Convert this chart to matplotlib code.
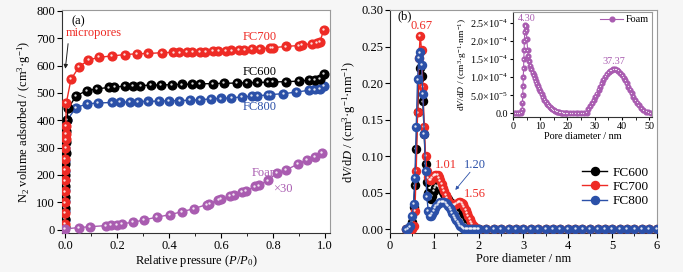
import matplotlib
matplotlib.use("Agg")
import matplotlib.pyplot as plt
from matplotlib.transforms import offset_copy
from matplotlib.ticker import MultipleLocator, FixedLocator, FixedFormatter, FormatStrFormatter

plt.rcParams['font.family'] = ['Liberation Serif', 'DejaVu Serif']
plt.rcParams['mathtext.fontset'] = 'custom'
plt.rcParams['mathtext.rm'] = 'Liberation Serif'
plt.rcParams['mathtext.it'] = 'Liberation Serif:italic'
plt.rcParams['mathtext.bf'] = 'Liberation Serif:bold'

# ---------------- data: N2 isotherms (panel a) ----------------
fc700_p = [0.0002, 0.0003, 0.0004, 0.0005, 0.0007, 0.0009, 0.0012, 0.0015, 0.002, 0.0025, 0.003, 0.005,
           0.023, 0.055, 0.09, 0.13, 0.18, 0.23, 0.276, 0.32, 0.374, 0.417, 0.44, 0.47, 0.49, 0.52, 0.54,
           0.57, 0.59, 0.62, 0.64, 0.67, 0.69, 0.72, 0.75, 0.79, 0.80, 0.85, 0.90, 0.91, 0.95, 0.97, 0.98, 0.995]
fc700_v = [20, 60, 100, 140, 180, 220, 260, 300, 330, 350, 378, 463,
           550, 596, 620, 630, 635, 640, 643, 644, 647, 648, 648, 649, 649, 651, 651,
           652, 653, 654, 655, 656, 658, 660, 662, 664, 665, 670, 673, 675, 680, 684, 687, 730]

fc600_p = [0.0002, 0.0003, 0.0005, 0.0007, 0.001, 0.0013, 0.0017, 0.0022, 0.003, 0.004, 0.006, 0.013,
           0.042, 0.083, 0.124, 0.17, 0.19, 0.23, 0.26, 0.29, 0.33, 0.37, 0.41, 0.45, 0.49, 0.52, 0.57,
           0.61, 0.66, 0.70, 0.74, 0.78, 0.80, 0.85, 0.90, 0.94, 0.96, 0.98, 0.995]
fc600_v = [10, 40, 80, 120, 160, 200, 240, 280, 320, 360, 400, 444,
           489, 508, 515, 520, 522, 524, 526, 527, 528, 529, 530, 531, 532, 533, 534,
           535, 536, 537, 538, 539, 540, 541, 543, 546, 548, 550, 570]

fc800_p = [0.0001, 0.0002, 0.0003, 0.0004, 0.0005, 0.0006, 0.0007, 0.0008, 0.0009, 0.001, 0.0012, 0.008,
           0.042, 0.086, 0.126, 0.18, 0.21, 0.25, 0.28, 0.32, 0.36, 0.40, 0.44, 0.48, 0.52, 0.56, 0.60,
           0.64, 0.68, 0.72, 0.74, 0.78, 0.79, 0.84, 0.89, 0.94, 0.96, 0.98, 0.995]
fc800_v = [35, 70, 105, 145, 180, 215, 250, 285, 300, 318, 330, 400,
           446, 460, 463, 465, 466, 467, 468, 469, 470, 471, 472, 473, 475, 478, 480,
           482, 485, 488, 490, 492, 494, 497, 503, 510, 513, 516, 527]

foam_p = [0.001, 0.054, 0.096, 0.158, 0.175, 0.20, 0.22, 0.26, 0.305, 0.353, 0.404, 0.45, 0.496, 0.545,
          0.555, 0.59, 0.60, 0.635, 0.65, 0.68, 0.695, 0.73, 0.745, 0.78, 0.814, 0.85, 0.897, 0.93, 0.96, 0.987]
foam_v = [3, 8, 11, 15, 17, 18, 22, 27, 36, 46, 55, 66, 77, 92,
          95, 109, 112, 122, 126, 137, 141, 158, 162, 180, 207, 218, 241, 255, 267, 280]

# ---------------- data: pore size distribution (panel b) ----------------
psd_d = [0.35, 0.40, 0.45, 0.50, 0.53, 0.56, 0.59, 0.62, 0.65, 0.68, 0.71, 0.74, 0.77, 0.80, 0.83, 0.86,
         0.89, 0.92, 0.95, 0.98, 1.01, 1.04, 1.07, 1.10, 1.13, 1.16, 1.19, 1.22, 1.25, 1.28, 1.31, 1.34,
         1.37, 1.40, 1.43, 1.46, 1.49, 1.52, 1.55, 1.58, 1.61, 1.64, 1.67, 1.70, 1.73, 1.76, 1.79, 1.82,
         1.85, 1.88, 1.91, 1.94, 1.97, 2.00,
         2.17, 2.33, 2.50, 2.67, 2.83, 3.00, 3.17, 3.33, 3.50, 3.67, 3.83, 4.00, 4.17, 4.33, 4.50, 4.67,
         4.83, 5.00, 5.17, 5.33, 5.50, 5.67, 5.83, 6.00]
psd_fc700 = [0, 0, 0, 0.001, 0.005, 0.025, 0.080, 0.160, 0.235, 0.265, 0.245, 0.195, 0.140, 0.100, 0.080, 0.071,
             0.068, 0.068, 0.070, 0.073, 0.075, 0.075, 0.074, 0.071, 0.067, 0.062, 0.057, 0.052, 0.047, 0.043, 0.039, 0.036,
             0.034, 0.033, 0.033, 0.034, 0.035, 0.036, 0.037, 0.037, 0.036, 0.034, 0.031, 0.027, 0.023, 0.018, 0.014, 0.010,
             0.007, 0.004, 0.002, 0.001, 0.001, 0.001,
             0.001, 0.001, 0.001, 0.001, 0.001, 0.001, 0.001, 0.001, 0.001, 0.001, 0.001, 0.001, 0.001, 0.001, 0.001, 0.001,
             0.001, 0.001, 0.001, 0.001, 0.001, 0.001, 0.001, 0.001]
psd_fc600 = [0, 0, 0.001, 0.010, 0.030, 0.060, 0.110, 0.160, 0.205, 0.220, 0.210, 0.175, 0.130, 0.090, 0.065, 0.050,
             0.043, 0.042, 0.046, 0.052, 0.057, 0.059, 0.059, 0.058, 0.056, 0.054, 0.051, 0.048, 0.046, 0.043, 0.041, 0.038,
             0.036, 0.033, 0.031, 0.028, 0.025, 0.022, 0.019, 0.016, 0.013, 0.010, 0.008, 0.006, 0.004, 0.003, 0.002, 0.001,
             0.001, 0.001, 0.001, 0.001, 0.001, 0.001,
             0.001, 0.001, 0.001, 0.001, 0.001, 0.001, 0.001, 0.001, 0.001, 0.001, 0.001, 0.001, 0.001, 0.001, 0.001, 0.001,
             0.001, 0.001, 0.001, 0.001, 0.001, 0.001, 0.001, 0.001]
psd_fc800 = [0, 0.001, 0.004, 0.018, 0.035, 0.070, 0.140, 0.205, 0.235, 0.242, 0.225, 0.185, 0.130, 0.080, 0.045, 0.025,
             0.018, 0.018, 0.021, 0.025, 0.029, 0.032, 0.034, 0.036, 0.037, 0.038, 0.038, 0.037, 0.036, 0.034, 0.032, 0.029,
             0.026, 0.023, 0.019, 0.016, 0.013, 0.010, 0.007, 0.005, 0.003, 0.002, 0.001, 0.001, 0.001, 0.001, 0.001, 0.001,
             0.001, 0.001, 0.001, 0.001, 0.001, 0.001,
             0.001, 0.001, 0.001, 0.001, 0.001, 0.001, 0.001, 0.001, 0.001, 0.001, 0.001, 0.001, 0.001, 0.001, 0.001, 0.001,
             0.001, 0.001, 0.001, 0.001, 0.001, 0.001, 0.001, 0.001]

# ---------------- data: foam PSD (inset) ----------------
foam_d = [0.3, 1.0, 1.7, 2.4, 3.0, 3.4, 3.5, 3.6, 3.7, 3.8, 3.9, 4.0, 4.1, 4.2, 4.3, 4.5, 4.7, 4.9, 5.1, 5.4,
          5.7, 6.0, 6.4, 6.8, 7.2, 7.6, 8.0, 8.4, 8.8, 9.2, 9.6, 10.0, 10.5, 11.0, 11.5, 12.0, 12.5, 13.0, 13.5, 14.0,
          14.5, 15.0, 15.5, 16.0, 16.5, 17.0, 17.5, 18.0, 18.5, 19.0, 19.5, 20.0, 21, 22, 23, 24, 25, 26, 27, 27.7,
          28.4, 29.0, 29.6, 30.2, 30.8, 31.4, 32.0, 32.6, 33.2, 33.8, 34.4, 35.1, 35.7, 36.3, 36.9, 37.5, 38.1, 38.7, 39.4, 40.0,
          40.6, 41.2, 41.8, 42.4, 43.0, 43.6, 44.2, 44.8, 45.5, 46.1, 47.0, 47.9, 48.8, 49.7, 50.6]
foam_psd = [0, 0, 0, 0, 0.02, 0.1, 0.3, 0.5, 0.75, 1.0, 1.25, 1.5, 1.75, 2.0, 2.25, 2.45, 2.42, 2.3, 2.05, 1.75,
            1.58, 1.45, 1.32, 1.22, 1.13, 1.05, 0.97, 0.89, 0.82, 0.75, 0.68, 0.61, 0.53, 0.45, 0.38, 0.32, 0.27, 0.22, 0.18, 0.14,
            0.11, 0.09, 0.07, 0.05, 0.04, 0.03, 0.02, 0.015, 0.01, 0.008, 0.005, 0.003, 0.002, 0.002, 0.002, 0.002, 0.002, 0.002, 0.02, 0.12,
            0.2, 0.28, 0.37, 0.46, 0.55, 0.65, 0.74, 0.83, 0.93, 1.02, 1.08, 1.14, 1.18, 1.2, 1.22, 1.22, 1.21, 1.18, 1.12, 1.06,
            0.99, 0.92, 0.83, 0.74, 0.65, 0.56, 0.46, 0.37, 0.3, 0.23, 0.15, 0.09, 0.05, 0.03, 0.01]
foam_psd_scale = 1e-4

inset_yticks = [0.0, 0.5e-4, 1.0e-4, 1.5e-4, 2.0e-4, 2.5e-4]
inset_yticklabels = ['0.0', '5.0×10$^{-5}$', '1.0×10$^{-4}$', '1.5×10$^{-4}$', '2.0×10$^{-4}$', '2.5×10$^{-4}$']

RED = '#ee2b25'
BLACK = '#000000'
BLUE = '#2b50a8'
PURPLE = '#a95cb0'

fig = plt.figure(figsize=(6.83, 2.72), dpi=100, facecolor='#f6f6f6')


def glossy(ax, x, y, color, ms, lw=1.0, hl=1.7, label=None, z=2):
    ax.plot(x, y, '-o', color=color, ms=ms, lw=lw, mec=color, mfc=color, label=label, zorder=z)
    tr = offset_copy(ax.transData, fig=fig, x=-0.6, y=0.6, units='points')
    ax.plot(x, y, 'o', ms=hl, color='white', mec='none', alpha=0.85, transform=tr, zorder=z + 0.1)


def style(ax, fs):
    for s in ['top', 'right']:
        ax.spines[s].set_color('#9a9a9a')
    for s in ['left', 'bottom']:
        ax.spines[s].set_color('#333333')
    ax.tick_params(direction='out', length=3.5, width=0.8, labelsize=fs, top=False, right=False, pad=1.5)
    ax.tick_params(which='minor', direction='out', length=2, width=0.6)


# ---------------- panel (a) ----------------
ax1 = fig.add_axes([0.0908, 0.1434, 0.3924, 0.8199])
glossy(ax1, fc800_p, fc800_v, BLUE, 6.3, z=2)
glossy(ax1, fc600_p, fc600_v, BLACK, 6.3, z=3)
glossy(ax1, fc700_p, fc700_v, RED, 6.3, z=4)
glossy(ax1, foam_p, foam_v, PURPLE, 6.3, z=5)
ax1.set_xlim(-0.0115, 1.019)
ax1.set_ylim(-12, 803)
ax1.xaxis.set_major_locator(MultipleLocator(0.2))
ax1.xaxis.set_minor_locator(MultipleLocator(0.1))
ax1.yaxis.set_major_locator(MultipleLocator(100))
ax1.xaxis.set_major_formatter(FormatStrFormatter('%.1f'))
style(ax1, 9)
ax1.set_xlabel('Relative pressure ($P$/$P_0$)', fontsize=9, labelpad=1)
ax1.set_ylabel('N$_2$ volume adsorbed / (cm$^3$·g$^{-1}$)', fontsize=9, labelpad=2)
ax1.text(0.025, 760, '(a)', fontsize=9, va='center')
ax1.text(0.004, 719, 'micropores', color=RED, fontsize=9, va='center')
ax1.annotate('', xy=(0.0, 578), xytext=(0.013, 690),
             arrowprops=dict(arrowstyle='-|>', color='#222222', lw=0.7, mutation_scale=6))
ax1.text(0.75, 704, 'FC700', color=RED, fontsize=9, ha='center', va='center')
ax1.text(0.75, 577, 'FC600', color=BLACK, fontsize=9, ha='center', va='center')
ax1.text(0.75, 449, 'FC800', color=BLUE, fontsize=9, ha='center', va='center')
ax1.text(0.773, 208, 'Foam', color=PURPLE, fontsize=9, ha='center', va='center')
ax1.text(0.836, 150, '×30', color=PURPLE, fontsize=9, ha='center', va='center')

# ---------------- panel (b) ----------------
ax2 = fig.add_axes([0.571, 0.1434, 0.3905, 0.8199])
glossy(ax2, psd_d, psd_fc600, BLACK, 5.8, label='FC600', z=2)
glossy(ax2, psd_d, psd_fc700, RED, 5.8, label='FC700', z=3)
glossy(ax2, psd_d, psd_fc800, BLUE, 5.8, label='FC800', z=4)
ax2.set_xlim(0, 6)
ax2.set_ylim(-0.005, 0.300)
ax2.xaxis.set_major_locator(MultipleLocator(1))
ax2.xaxis.set_minor_locator(MultipleLocator(0.5))
ax2.yaxis.set_major_locator(MultipleLocator(0.05))
ax2.yaxis.set_major_formatter(FormatStrFormatter('%.2f'))
style(ax2, 9)
ax2.set_xlabel('Pore diameter / nm', fontsize=9, labelpad=1)
ax2.set_ylabel('d$V$/d$D$ / (cm$^3$·g$^{-1}$·nm$^{-1}$)', fontsize=9, labelpad=2)
ax2.text(0.17, 0.291, '(b)', fontsize=9, va='center')
ax2.text(0.715, 0.278, '0.67', color=RED, fontsize=9, ha='center', va='center')
ax2.text(1.26, 0.088, '1.01', color=RED, fontsize=9, ha='center', va='center')
ax2.text(1.90, 0.088, '1.20', color=BLUE, fontsize=9, ha='center', va='center')
ax2.text(1.90, 0.049, '1.56', color=RED, fontsize=9, ha='center', va='center')
ax2.annotate('', xy=(1.43, 0.051), xytext=(1.84, 0.081),
             arrowprops=dict(arrowstyle='-|>', color=BLUE, lw=0.6, mutation_scale=5))
h, l = ax2.get_legend_handles_labels()
ax2.legend(h, l, loc='lower right', bbox_to_anchor=(1.0, 0.08), frameon=False, fontsize=9.5,
           handlelength=1.9, handletextpad=0.4, labelspacing=0.15, borderaxespad=0.2)

# ---------------- inset ----------------
ax3 = fig.add_axes([0.751, 0.570, 0.2035, 0.386])
foam_psd_vals = [v * foam_psd_scale for v in foam_psd]
ax3.plot(foam_d, foam_psd_vals, '-o', color=PURPLE, ms=3.4, lw=0.8, label='Foam')
tr3 = offset_copy(ax3.transData, fig=fig, x=-0.3, y=0.3, units='points')
ax3.plot(foam_d, foam_psd_vals, 'o', ms=0.9, color='white', mec='none', alpha=0.85, transform=tr3)
ax3.set_xlim(0, 51)
ax3.set_ylim(-0.1e-4, 2.81e-4)
ax3.xaxis.set_major_locator(MultipleLocator(10))
ax3.xaxis.set_minor_locator(MultipleLocator(5))
ax3.yaxis.set_major_locator(FixedLocator(inset_yticks))
ax3.yaxis.set_major_formatter(FixedFormatter(inset_yticklabels))
style(ax3, 7.3)
ax3.tick_params(length=2.5, pad=1)
ax3.set_xlabel('Pore diameter / nm', fontsize=7.3, labelpad=0.5)
ax3.set_ylabel('d$V$/d$D$ / (cm$^3$·g$^{-1}$·nm$^{-1}$)', fontsize=6.8, labelpad=1)
ax3.text(4.9, 2.64e-4, '4.30', color=PURPLE, fontsize=7.3, ha='center', va='center')
ax3.text(36.9, 1.43e-4, '37.37', color=PURPLE, fontsize=7.3, ha='center', va='center')
ax3.legend(loc='upper right', frameon=False, fontsize=7.3, handlelength=2.2, handletextpad=0.3,
           borderaxespad=0.1, borderpad=0.2)

fig.savefig('out.png', dpi=100, facecolor=fig.get_facecolor())
